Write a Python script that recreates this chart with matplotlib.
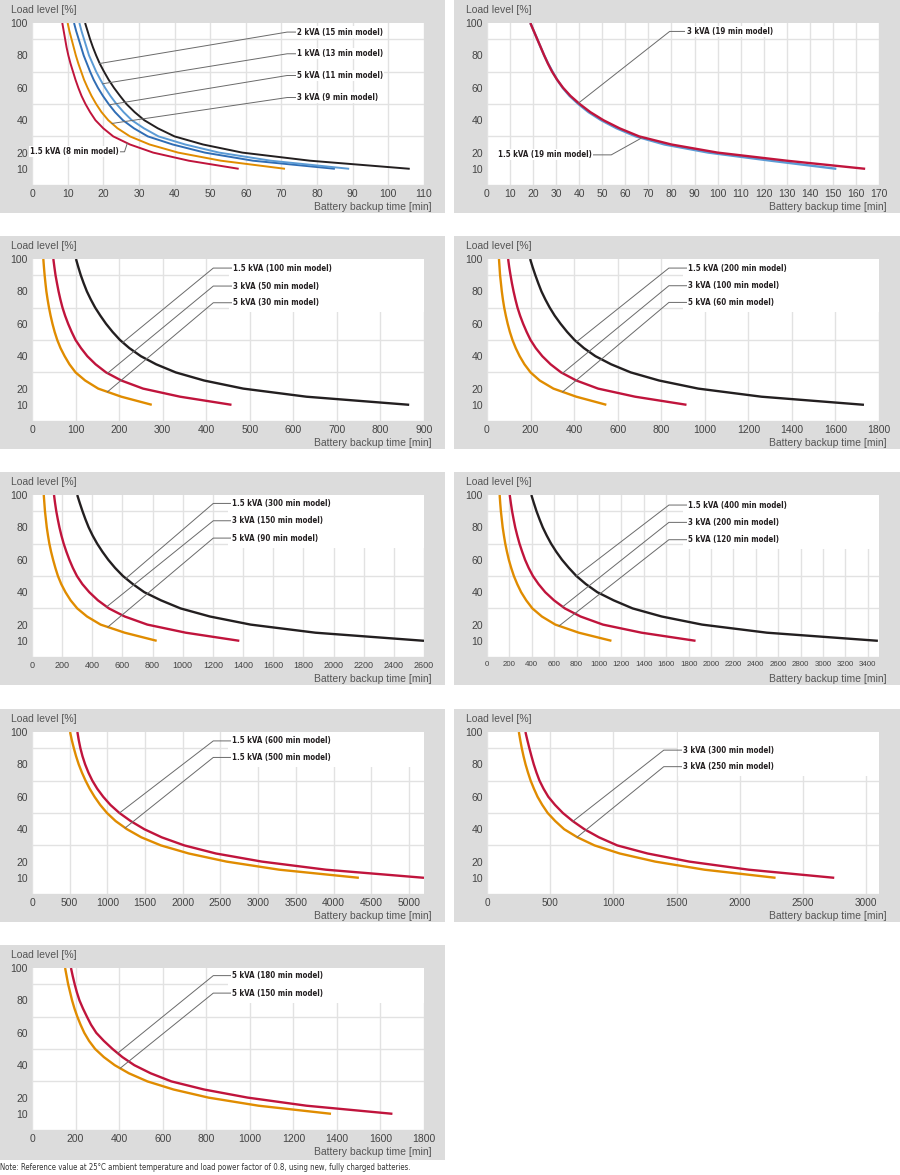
import numpy as np
import matplotlib.pyplot as plt
from matplotlib import font_manager
from matplotlib.font_manager import FontProperties
from matplotlib.patches import Rectangle

plt.rcParams['font.family'] = ['Liberation Sans', 'DejaVu Sans']


def narrow_font(bold, size):
    # look for a condensed / narrow face; otherwise fall back to a smaller Liberation Sans
    keys = ['Narrow', 'Condensed']
    for f in font_manager.fontManager.ttflist:
        base = f.fname.rsplit('/', 1)[-1]
        if any(k in base for k in keys) and ((f.weight in ('bold', 700)) == bold) and f.style == 'normal':
            return FontProperties(fname=f.fname, size=size)
    return FontProperties(family='Liberation Sans', weight='bold' if bold else 'normal', size=size - 0.6)


LABEL_FP = narrow_font(True, 5.7)
NOTE_FP = narrow_font(False, 5.6)

# load levels shared by every curve (%)
load_pct = [100, 95, 90, 85, 80, 75, 70, 65, 60, 55, 50, 45, 40, 35, 30, 25, 20, 15, 10]

# backup times [min], one value per load level
p1_15kva_8 = [8.5, 8.9, 9.3, 9.7, 10.2, 10.8, 11.5, 12.2, 13.0, 13.9, 15.0, 16.3, 17.8, 20.0, 22.8, 27.5, 34, 44, 58]
p1_3kva_9 = [10.0, 10.5, 11.1, 11.7, 12.3, 13.0, 13.8, 14.6, 15.6, 16.7, 18.0, 19.5, 21.4, 24.0, 27.5, 33, 41, 53, 71]
p1_5kva_11 = [11.8, 12.4, 13.1, 13.8, 14.5, 15.4, 16.3, 17.3, 18.5, 19.9, 21.5, 23.3, 25.5, 28.6, 32.5, 39.5, 48.5, 62, 85]
p1_1kva_13 = [13.3, 13.9, 14.6, 15.3, 16.0, 17.0, 18.0, 19.2, 20.5, 22.0, 23.7, 25.7, 28.0, 31.4, 35.5, 43, 52.5, 67, 89]
p1_2kva_15 = [14.9, 15.6, 16.3, 17.1, 18.0, 19.0, 20.2, 21.5, 23.0, 24.7, 26.5, 28.8, 31.5, 35.3, 40, 48, 59, 78, 106]

p2_3kva_19 = [18.8, 20.3, 21.8, 23.3, 24.8, 26.4, 28.2, 30.4, 33, 36.2, 40.2, 44.8, 50.5, 57.5, 66, 80, 100, 130, 164]
p2_15kva_19 = [18.8, 20.3, 21.8, 23.3, 24.8, 26.5, 28.4, 30.4, 32.8, 35.8, 39.6, 44.0, 49.5, 56.2, 64.5, 77, 96, 123, 151.5]

p3_5kva_30 = [26, 27.4, 29, 30.9, 33, 35.8, 39, 42.7, 47, 52, 58, 65.5, 75, 86, 100, 122, 152, 205, 275]
p3_3kva_50 = [49, 51.4, 54, 57.4, 61, 65.2, 70, 76, 83, 91, 100, 112.5, 127, 146, 170, 205, 255, 340, 458]
p3_15kva_100 = [101, 106.3, 112, 118.7, 126, 135, 145, 157, 170, 185, 202, 223.5, 250, 285, 330, 395, 485, 630, 866]

p4_5kva_60 = [55, 57.5, 60, 64, 68, 73, 79, 86.5, 95, 105, 117, 132, 150, 172, 200, 242, 305, 410, 548]
p4_3kva_100 = [97, 102, 108, 114.5, 122, 130.5, 140, 152, 166, 182, 200, 224, 254, 292, 340, 410, 510, 680, 916]
p4_15kva_200 = [198, 209.5, 222, 235.5, 250, 268, 288, 311, 338, 368, 402, 445, 498, 570, 660, 790, 970, 1260, 1731]

p5_5kva_90 = [78, 82, 86, 92, 98, 106, 115, 126.5, 140, 155, 172, 194, 222, 256, 300, 365, 455, 615, 827]
p5_3kva_150 = [146, 153, 161, 171, 182, 195, 210, 228, 248, 271, 298, 334, 380, 437, 510, 615, 765, 1020, 1375]
p5_15kva_300 = [300, 317, 335, 354.5, 376, 402, 432, 467, 506, 551, 603, 669, 745, 855, 985, 1180, 1450, 1880, 2600]

p6_5kva_120 = [113, 118, 124, 132, 140, 151, 163, 178, 195, 216, 240, 270, 305, 350, 405, 490, 610, 820, 1111]
p6_3kva_200 = [203, 213, 224, 237.5, 252, 270, 290, 314, 340, 372, 410, 460, 520, 598, 695, 835, 1035, 1380, 1862]
p6_15kva_400 = [396, 418.5, 442, 469, 498, 533, 572, 618, 670, 731, 798, 883, 985, 1130, 1300, 1560, 1920, 2500, 3490]

p7_15kva_500 = [505, 528, 555, 585, 620, 662, 710, 765, 830, 905, 995, 1110, 1260, 1450, 1710, 2080, 2580, 3280, 4336]
p7_15kva_600 = [602, 620, 642, 670, 705, 748, 800, 865, 945, 1040, 1160, 1310, 1490, 1720, 2020, 2440, 3050, 3900, 5200]

p8_3kva_250 = [252, 263, 275, 289, 305, 324, 345, 371, 400, 437, 480, 540, 610, 715, 850, 1050, 1330, 1720, 2282]
p8_3kva_300 = [304, 319, 335, 352, 370, 391, 415, 447, 485, 538, 600, 678, 770, 885, 1030, 1270, 1600, 2070, 2746]

p9_5kva_150 = [152, 159, 166, 175, 184, 195, 208, 223, 240, 262, 290, 330, 380, 445, 530, 650, 810, 1040, 1373]
p9_5kva_180 = [179, 187, 196, 206, 218, 234, 252, 271, 295, 330, 370, 415, 470, 545, 640, 790, 990, 1260, 1655]

BLACK = '#231f20'
RED = '#c0143c'
ORANGE = '#e08c00'
DBLUE = '#2f6db5'
LBLUE = '#5b9bd5'

# x range / tick step / tick font size per panel
x_max = [110, 170, 900, 1800, 2600, 3500, 5200, 3100, 1800]
x_step = [10, 10, 100, 200, 200, 200, 500, 500, 200]
x_tick_fs = [7.5, 7.5, 7.5, 7.5, 6.5, 5.7, 7.5, 7.2, 7.5]

# (series, colour) drawn in each panel
panel_curves = [
    [(p1_15kva_8, RED), (p1_3kva_9, ORANGE), (p1_5kva_11, DBLUE), (p1_1kva_13, LBLUE), (p1_2kva_15, BLACK)],
    [(p2_15kva_19, LBLUE), (p2_3kva_19, RED)],
    [(p3_5kva_30, ORANGE), (p3_3kva_50, RED), (p3_15kva_100, BLACK)],
    [(p4_5kva_60, ORANGE), (p4_3kva_100, RED), (p4_15kva_200, BLACK)],
    [(p5_5kva_90, ORANGE), (p5_3kva_150, RED), (p5_15kva_300, BLACK)],
    [(p6_5kva_120, ORANGE), (p6_3kva_200, RED), (p6_15kva_400, BLACK)],
    [(p7_15kva_500, ORANGE), (p7_15kva_600, RED)],
    [(p8_3kva_250, ORANGE), (p8_3kva_300, RED)],
    [(p9_5kva_150, ORANGE), (p9_5kva_180, RED)],
]

# label text, label level, curve, level where leader meets curve
panel_labels = [
    [('2 kVA (15 min model)', 94.4, p1_2kva_15, 75),
     ('1 kVA (13 min model)', 81.0, p1_1kva_13, 62.5),
     ('5 kVA (11 min model)', 67.6, p1_5kva_11, 49.5),
     ('3 kVA (9 min model)', 54.0, p1_3kva_9, 38)],
    [('3 kVA (19 min model)', 94.8, p2_3kva_19, 50.6)],
    [('1.5 kVA (100 min model)', 94.4, p3_15kva_100, 48.5),
     ('3 kVA (50 min model)', 83.3, p3_3kva_50, 29.5),
     ('5 kVA (30 min model)', 73.0, p3_5kva_30, 18)],
    [('1.5 kVA (200 min model)', 94.4, p4_15kva_200, 48.9),
     ('3 kVA (100 min model)', 83.5, p4_3kva_100, 29.5),
     ('5 kVA (60 min model)', 73.2, p4_5kva_60, 18)],
    [('1.5 kVA (300 min model)', 94.8, p5_15kva_300, 48.5),
     ('3 kVA (150 min model)', 84.1, p5_3kva_150, 31),
     ('5 kVA (90 min model)', 73.4, p5_5kva_90, 18.5)],
    [('1.5 kVA (400 min model)', 93.8, p6_15kva_400, 50),
     ('3 kVA (200 min model)', 83.1, p6_3kva_200, 31),
     ('5 kVA (120 min model)', 72.4, p6_5kva_120, 19.2)],
    [('1.5 kVA (600 min model)', 94.5, p7_15kva_600, 50),
     ('1.5 kVA (500 min model)', 84.3, p7_15kva_500, 40.8)],
    [('3 kVA (300 min model)', 88.8, p8_3kva_300, 44.9),
     ('3 kVA (250 min model)', 78.6, p8_3kva_250, 35.1)],
    [('5 kVA (180 min model)', 95.3, p9_5kva_180, 47.4),
     ('5 kVA (150 min model)', 84.5, p9_5kva_150, 38.1)],
]
# axes-fraction x of leader elbow and text start
label_elbow = [0.651, 0.466, 0.4625, 0.464, 0.4625, 0.464, 0.4625, 0.451, 0.4625]
label_text_x = [0.676, 0.509, 0.514, 0.512, 0.511, 0.513, 0.511, 0.500, 0.511]

# labels placed on the left of the curve (text, level, curve, curve level, text right, elbow)
left_labels = {
    0: ('1.5 kVA (8 min model)', 20.5, p1_15kva_8, 25.8, 0.222, 0.236),
    1: ('1.5 kVA (19 min model)', 18.6, p2_15kva_19, 29.0, 0.268, 0.317),
}

W, H = 900, 1175
row_tops = [0, 236, 472, 709, 945]
GREY = '#dcdcdc'
GRID = '#e2e2e2'
LEADER = '#6a6a6a'

fig = plt.figure(figsize=(W / 100, H / 100), dpi=100)
fig.patch.set_facecolor('white')


def time_at(series, level):
    return np.interp(level, load_pct[::-1], series[::-1])


for i in range(9):
    row, col = divmod(i, 2)
    top = row_tops[row]
    pleft, pwidth = (0, 445) if col == 0 else (454, 446)
    pheight = 215 if row == 4 else 213
    fig.patches.append(Rectangle((pleft / W, 1 - (top + pheight) / H), pwidth / W, pheight / H,
                                 transform=fig.transFigure, facecolor=GREY, edgecolor='none', zorder=-10))

    aleft = 32 if col == 0 else 487
    ax = fig.add_axes([aleft / W, 1 - (top + 23 + 162) / H, 392 / W, 162 / H])
    ax.set_facecolor('white')
    ax.set_xlim(0, x_max[i])
    ax.set_ylim(0, 100)
    for s in ax.spines.values():
        s.set_visible(False)

    ax.set_xticks(np.arange(0, x_max[i] + 1, x_step[i]))
    ax.set_yticks([10, 20, 40, 60, 80, 100])
    ax.set_yticks(np.arange(0, 101, 10), minor=True)
    ax.tick_params(axis='both', which='both', length=0, colors='#444444')
    ax.tick_params(axis='x', labelsize=x_tick_fs[i], pad=3)
    ax.tick_params(axis='y', labelsize=7.5, pad=3)
    ax.set_axisbelow(True)
    ax.grid(True, which='major', axis='x', color=GRID, lw=1.0)
    ax.grid(True, which='minor', axis='y', color=GRID, lw=1.0)

    for series, color in panel_curves[i]:
        ax.plot(series, load_pct, color=color, lw=1.7 if i else 1.4,
                solid_capstyle='butt', solid_joinstyle='round', zorder=3)

    # white area behind the label block
    labels = panel_labels[i]
    if i >= 2:
        low = min(l[1] for l in labels) - 6
        ax.add_patch(Rectangle((label_text_x[i] - 0.012, low), 1.1, 100 - low,
                               transform=ax.get_yaxis_transform(), facecolor='white',
                               edgecolor='none', zorder=1))

    for text, ly, series, py, in labels:
        ex = label_elbow[i] * x_max[i]
        tx = label_text_x[i] * x_max[i]
        ax.plot([time_at(series, py), ex, tx], [py, ly, ly], color=LEADER, lw=0.7, zorder=4)
        ax.text(tx, ly, text, ha='left', va='center', fontproperties=LABEL_FP,
                color=BLACK, zorder=5, bbox=dict(facecolor='white', edgecolor='none', pad=0.8))

    if i in left_labels:
        text, ly, series, py, tr, ex = left_labels[i]
        ax.plot([time_at(series, py), ex * x_max[i], tr * x_max[i]], [py, ly, ly],
                color=LEADER, lw=0.7, zorder=4)
        ax.text(tr * x_max[i], ly, text, ha='right', va='center', fontproperties=LABEL_FP,
                color=BLACK, zorder=5, bbox=dict(facecolor='white', edgecolor='none', pad=0.8))

    ax.annotate('Load level [%]', xy=(0, 1), xycoords='axes fraction', xytext=(-15, 9.5),
                textcoords='offset points', ha='left', va='center', fontsize=7.5, color='#555555')
    ax.annotate('Battery backup time [min]', xy=(1, 0), xycoords='axes fraction', xytext=(5.8, -16),
                textcoords='offset points', ha='right', va='center', fontsize=7.5, color='#555555')

fig.text(0.0, 1 - 1167 / H,
         'Note: Reference value at 25\u00b0C ambient temperature and load power factor of 0.8, '
         'using new, fully charged batteries.',
         ha='left', va='center', fontproperties=NOTE_FP, color='#333333')

fig.savefig('out.png', dpi=100)
